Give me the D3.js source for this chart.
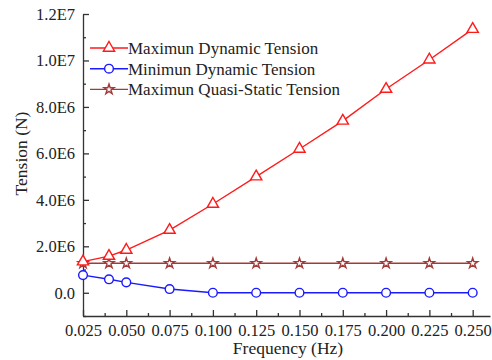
<!DOCTYPE html>
<html>
<head>
<meta charset="utf-8">
<script src="https://cdn.jsdelivr.net/npm/d3@7"></script>
<style>
  body { margin: 0; background: #fff; }
  svg { display: block; }
  text { font-family: "Liberation Serif", "Times New Roman", serif; fill: #222; }
</style>
</head>
<body>
<svg width="492" height="360"></svg>
<script>
let freq = [0.025, 0.04, 0.05, 0.075, 0.1, 0.125, 0.15, 0.175, 0.2, 0.225, 0.25];
let maxDynamic = [1.34e6, 1.58e6, 1.84e6, 2.70e6, 3.82e6, 5.0e6, 6.19e6, 7.4e6, 8.77e6, 10.03e6, 11.35e6];
let minDynamic = [0.76e6, 0.58e6, 0.45e6, 0.16e6, 0, 0, 0, 0, 0, 0, 0];
let quasiStatic = [1.27e6, 1.27e6, 1.27e6, 1.27e6, 1.27e6, 1.27e6, 1.27e6, 1.27e6, 1.27e6, 1.27e6, 1.27e6];
let xTicks = [0.025, 0.05, 0.075, 0.1, 0.125, 0.15, 0.175, 0.2, 0.225, 0.25];
let yTicks = [0, 2e6, 4e6, 6e6, 8e6, 10e6, 12e6];
let yTickLabels = ["0.0", "2.0E6", "4.0E6", "6.0E6", "8.0E6", "1.0E7", "1.2E7"];
let seriesNames = ["Maximun Dynamic Tension", "Minimun Dynamic Tension", "Maximun Quasi-Static Tension"];

var svg = d3.select("svg");
var margin = {left: 83, right: 2, top: 14, bottom: 44};
var width = 492 - margin.left - margin.right,
    height = 360 - margin.top - margin.bottom;

var x = d3.scaleLinear().domain([0.025, 0.26]).range([0, width]);
var y = d3.scaleLinear().domain([-1e6, 1.2e7]).range([height, 0]);

var g = svg.append("g").attr("transform", "translate(" + margin.left + "," + margin.top + ")");

// minor ticks, halfway between the majors
var xMinor = d3.range(0.0375, 0.26, 0.025);
var yMinor = d3.range(-1e6, 1.2e7, 2e6);

g.append("g").attr("transform", "translate(0," + height + ")")
  .call(d3.axisBottom(x).tickValues(xTicks).tickFormat(d3.format(".3f")).tickSizeInner(-6).tickSizeOuter(0).tickPadding(8));
g.append("g").attr("transform", "translate(0," + height + ")")
  .call(d3.axisBottom(x).tickValues(xMinor).tickFormat("").tickSizeInner(-3).tickSizeOuter(0))
  .select(".domain").remove();

g.append("g")
  .call(d3.axisLeft(y).tickValues(yTicks).tickFormat((d, i) => yTickLabels[i]).tickSizeInner(-6).tickSizeOuter(0).tickPadding(8));
g.append("g")
  .call(d3.axisLeft(y).tickValues(yMinor).tickFormat("").tickSizeInner(-3).tickSizeOuter(0))
  .select(".domain").remove();

g.selectAll(".domain, .tick line").attr("stroke", "#333").attr("stroke-width", 1.3);
g.selectAll(".tick text").style("font-size", "16.5px").style("font-family", "Liberation Serif").attr("fill", "#222");

// axis titles
svg.append("text").attr("x", 288).attr("y", 354)
  .attr("text-anchor", "middle").style("font-size", "17.5px").text("Frequency (Hz)");
svg.append("text").attr("transform", "translate(27,153.5) rotate(-90)")
  .attr("text-anchor", "middle").style("font-size", "17.5px").text("Tension (N)");

var series = [
  {name: seriesNames[0], values: maxDynamic, color: "#ff1a1a", symbol: d3.symbolTriangle, size: 55},
  {name: seriesNames[1], values: minDynamic, color: "#1a1aff", symbol: d3.symbolCircle, size: 60},
  {name: seriesNames[2], values: quasiStatic, color: "#a33a3a", symbol: d3.symbolStar, size: 32}
];

var line = d3.line().x((d, i) => x(freq[i])).y(d => y(d));

series.slice().reverse().forEach(function(s) {
  g.append("path").datum(s.values)
    .attr("fill", "none").attr("stroke", s.color).attr("stroke-width", 1.4)
    .attr("d", line);
  g.selectAll(null).data(s.values).enter().append("path")
    .attr("transform", (d, i) => "translate(" + x(freq[i]) + "," + y(d) + ")")
    .attr("d", d3.symbol().type(s.symbol).size(s.size))
    .attr("fill", "#fff").attr("stroke", s.color).attr("stroke-width", 1.4);
});

// legend
var legend = svg.append("g").attr("transform", "translate(90,48)");
series.forEach(function(s, i) {
  var row = legend.append("g").attr("transform", "translate(0," + (i * 20.7) + ")");
  row.append("line").attr("x1", 0).attr("x2", 38).attr("stroke", s.color).attr("stroke-width", 1.4);
  row.append("path").attr("transform", "translate(19,0)")
    .attr("d", d3.symbol().type(s.symbol).size(s.size))
    .attr("fill", "#fff").attr("stroke", s.color).attr("stroke-width", 1.4);
  row.append("text").attr("x", 38).attr("y", 0).attr("dy", "0.35em").style("font-size", "17px").text(s.name);
});
</script>
</body>
</html>
